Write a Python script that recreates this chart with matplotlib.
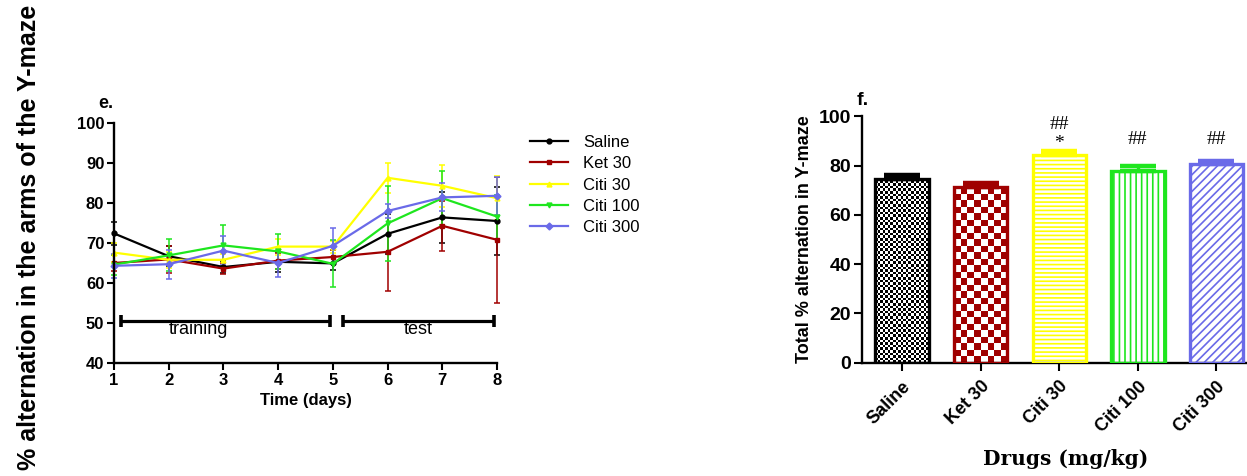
import numpy as np
import matplotlib
matplotlib.use("Agg")
import matplotlib.pyplot as plt
from matplotlib.colors import ListedColormap

plt.rcParams['font.family'] = ['Liberation Sans', 'DejaVu Sans']
plt.rcParams['hatch.linewidth'] = 1.2

# ---- daily alternation (panel e) ----
days = [1, 2, 3, 4, 5, 6, 7, 8]
groups = ["Saline", "Ket 30", "Citi 30", "Citi 100", "Citi 300"]
saline_mean = [72.4, 66.7, 64.0, 65.3, 64.9, 72.3, 76.4, 75.5]
saline_err = [2.9, 2.5, 1.6, 2.5, 1.6, 5.0, 6.3, 8.6]
ket30_mean = [65.0, 65.9, 63.6, 65.6, 66.5, 67.8, 74.3, 70.8]
ket30_err = [2.0, 3.3, 1.3, 2.0, 1.7, 9.9, 6.3, 15.8]
citi30_mean = [67.6, 65.8, 65.8, 69.1, 69.1, 86.3, 84.3, 81.2]
citi30_err = [2.4, 2.0, 1.5, 2.0, 1.5, 3.7, 5.3, 5.5]
citi100_mean = [64.6, 66.9, 69.4, 67.9, 64.8, 74.9, 81.2, 76.6]
citi100_err = [2.5, 4.0, 5.1, 4.3, 5.9, 9.4, 6.7, 5.5]
citi300_mean = [64.3, 64.7, 68.1, 65.0, 69.3, 78.0, 81.4, 81.8]
citi300_err = [3.0, 3.6, 3.6, 3.5, 4.4, 1.8, 3.5, 4.8]

# ---- total alternation (panel f) ----
drug_labels = ["Saline", "Ket 30", "Citi 30", "Citi 100", "Citi 300"]
total_mean = [74.7, 71.4, 84.2, 77.8, 80.8]
total_err = [1.6, 1.7, 1.6, 1.9, 1.2]
sig_marks = ["", "", "##\n*", "##", "##"]

colors = ["#000000", "#A00000", "#FFFF00", "#1EE61E", "#6A6AE8"]
markers = ["o", "s", "^", "v", "D"]

phases = [("training", 1.13, 4.95), ("test", 5.18, 7.94)]

fig = plt.figure(figsize=(12.47, 4.76), dpi=100)

# shared y label at the far left
fig.text(0.023, 0.501, "% alternation in the arms of the Y-maze", rotation=90,
         ha="center", va="center", fontsize=18, fontweight="bold")

# ===== panel e: line chart =====
ax1 = fig.add_axes([0.0914, 0.2374, 0.3072, 0.5042])
means = [saline_mean, ket30_mean, citi30_mean, citi100_mean, citi300_mean]
errs = [saline_err, ket30_err, citi30_err, citi100_err, citi300_err]
handles = []
for m, e, c, mk, lab in zip(means, errs, colors, markers, groups):
    cont = ax1.errorbar(days, m, yerr=e, color=c, marker=mk, ms=3.5, lw=1.6,
                        elinewidth=1.1, capsize=2.5, capthick=1.1, label=lab,
                        clip_on=False)
    handles.append(cont[0])

ax1.set_xlim(1, 8)
ax1.set_ylim(40, 100)
ax1.set_xticks(days)
ax1.set_yticks(range(40, 101, 10))
for s in ["top", "right"]:
    ax1.spines[s].set_visible(False)
for s in ["left", "bottom"]:
    ax1.spines[s].set_linewidth(1.7)
ax1.tick_params(width=1.5, length=5, labelsize=12, pad=2)
for t in ax1.get_xticklabels() + ax1.get_yticklabels():
    t.set_fontweight("bold")
ax1.set_xlabel("Time (days)", fontsize=12, fontweight="bold", labelpad=4)

# phase brackets
for name, x0, x1 in phases:
    ax1.plot([x0, x1], [50.6, 50.6], color="black", lw=2.3, solid_capstyle="butt")
    for xe in (x0, x1):
        ax1.plot([xe, xe], [49.1, 52.1], color="black", lw=2.6, solid_capstyle="butt")
    ax1.text((x0 + x1) / 2 - (0.5 if name == "training" else 0.0), 50.6, name,
             ha="center", va="top", fontsize=13)

ax1.text(-0.04, 1.08, "e.", transform=ax1.transAxes, fontsize=13, fontweight="bold",
         ha="left", va="center")

fig.legend(handles, groups, loc="upper left", bbox_to_anchor=(0.413, 0.748),
           frameon=False, fontsize=12, handlelength=2.3, labelspacing=0.38,
           handletextpad=0.9)

# ===== panel f: bar chart =====
ax2 = fig.add_axes([0.6913, 0.238, 0.3087, 0.5176])
xpos = np.arange(len(drug_labels))
ax2.set_xlim(-0.51, 4.39)
ax2.set_ylim(0, 100)
hatches = [None, None, "----", "|||", "////"]
bars = ax2.bar(xpos, total_mean, width=0.68, facecolor="none", edgecolor=colors,
               linewidth=2.4, zorder=3)
for b, h in zip(bars, hatches):
    if h:
        b.set_hatch(h)


def checker_fill(ax, bar, color, cell_px):
    x0, y0 = bar.get_x(), bar.get_y()
    w, h = bar.get_width(), bar.get_height()
    p0 = ax.transData.transform((x0, y0))
    p1 = ax.transData.transform((x0 + w, y0 + h))
    nx = max(1, int(round((p1[0] - p0[0]) / cell_px)))
    ny = max(1, int(round((p1[1] - p0[1]) / cell_px)))
    grid = np.add.outer(np.arange(ny), np.arange(nx)) % 2
    im = ax.imshow(grid, cmap=ListedColormap(["white", color]),
                   extent=(x0, x0 + w, y0, y0 + h), origin="lower",
                   interpolation="nearest", aspect="auto", zorder=2)
    im.set_clip_path(bar)


checker_fill(ax2, bars[0], colors[0], 2.6)
checker_fill(ax2, bars[1], colors[1], 6.5)
ax2.set_xlim(-0.51, 4.39)
ax2.set_ylim(0, 100)

for x, v, e, c in zip(xpos, total_mean, total_err, colors):
    ax2.errorbar([x], [v], yerr=[[0], [e]], fmt="none", ecolor=c, elinewidth=2.4,
                 capsize=13, capthick=3.2, zorder=4)

sig_y = [0, 0, 93.0, 90.6, 90.8]
for x, s, y in zip(xpos, sig_marks, sig_y):
    if s:
        ax2.text(x, y, s, ha="center", va="center", fontsize=14,
                 family="Liberation Serif", linespacing=1.15)

for s in ["top", "right"]:
    ax2.spines[s].set_visible(False)
for s in ["left", "bottom"]:
    ax2.spines[s].set_linewidth(1.7)
ax2.set_xticks(xpos)
ax2.set_xticklabels(drug_labels, rotation=45, ha="right", rotation_mode="anchor")
ax2.set_yticks(range(0, 101, 20))
ax2.tick_params(width=1.5, length=6, labelsize=14, pad=2)
ax2.tick_params(axis="x", labelsize=13, pad=5)
for t in ax2.get_xticklabels() + ax2.get_yticklabels():
    t.set_fontweight("bold")
ax2.set_ylabel("Total % alternation in Y-maze", fontsize=13, fontweight="bold",
               labelpad=4)
ax2.set_xlabel("Drugs (mg/kg)", fontsize=14.5, fontweight="bold",
               family="DejaVu Serif", labelpad=10)
ax2.xaxis.set_label_coords(0.53, -0.35)
ax2.text(-0.015, 1.065, "f.", transform=ax2.transAxes, fontsize=14, fontweight="bold",
         ha="left", va="center")

fig.savefig("out.png", dpi=100)
